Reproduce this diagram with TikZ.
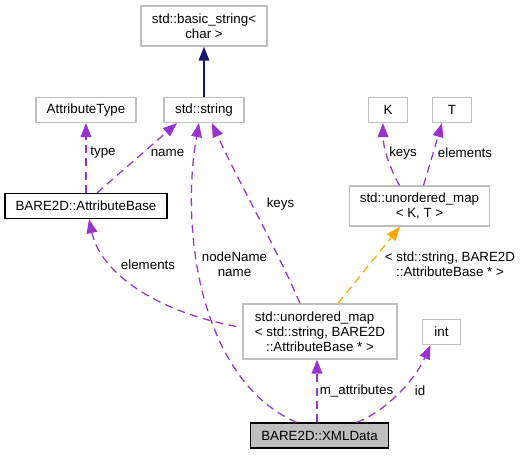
\documentclass[tikz,border=0pt]{standalone}
\usepackage{fontspec}
\setmainfont{Liberation Sans}
\usetikzlibrary{arrows.meta,calc,positioning}
\definecolor{edgepurple}{HTML}{9A32CD}
\definecolor{edgeorange}{HTML}{FFA500}
\definecolor{edgenavy}{HTML}{191970}
\definecolor{boxgrey}{HTML}{BFBFBF}

\begin{document}
\begin{tikzpicture}[x=0.75pt,y=-0.75pt,
    cls/.style={draw=boxgrey, line width=0.9pt, fill=white, font=\fontsize{10}{11.25}\selectfont, align=center, inner xsep=8pt, inner ysep=2pt, minimum height=18.75pt},
    cur/.style={cls, draw=black},
    lbl/.style={font=\fontsize{10}{11.25}\selectfont, align=center, inner sep=0pt},
    usage/.style={draw=edgepurple, line width=0.95pt, dash pattern=on 6pt off 4pt, -{Triangle[length=10.5pt,width=8pt,fill=edgepurple]}},
    tmpl/.style={usage, draw=edgeorange, -{Triangle[length=10.5pt,width=8pt,fill=edgeorange]}},
    inherit/.style={draw=edgenavy, line width=0.95pt, -{Triangle[length=10.5pt,width=8pt,fill=edgenavy]}}]
    \useasboundingbox (0,0) rectangle (527,455);
    % classes
    \node[cls, minimum width=94.5pt, minimum height=30pt] (bstr) at (204,26) {std::basic\_string<\\char >};
    \node[cls, minimum width=60pt] (str) at (204,110) {std::string};
    \node[cls, minimum width=74pt] (atype) at (86,110) {AttributeType};
    \node[cls, minimum width=29pt] (kparam) at (388,110) {K};
    \node[cls, minimum width=29pt] (tparam) at (452,110) {T};
    \node[cur, minimum width=121.5pt] (abase) at (86,206) {BARE2D::AttributeBase};
    \node[cls, minimum width=102.75pt, minimum height=30pt] (mapKT) at (419.5,206) {std::unordered\_map\\< K, T >};
    \node[cls, minimum width=115.5pt, minimum height=41.25pt] (mapS) at (320,331.5) {\rlap{std::unordered\_map}\phantom{< std::string, BARE2D}\\< std::string, BARE2D\\::AttributeBase * >};
    \node[cls, minimum width=29pt] (int) at (441.5,332) {int};
    \node[cur, fill=boxgrey, minimum width=104pt] (xml) at (319.5,435.5) {BARE2D::XMLData};
    % edges
    \draw[inherit] (str.north) -- (bstr.south);
    \draw[usage] (abase.north) -- (atype.south);
    \draw[usage] ($(abase.north)+(11,0)$) -- ($(str.south)+(-27,0)$);
    \draw[usage] ($(xml.north)+(-23,0)$) .. controls (200,380) and (180,230) .. ($(str.south)+(-5,0)$);
    \draw[usage] ($(mapS.north)+(-20,0)$) .. controls (275,245) and (235,175) .. ($(str.south)+(8,0)$);
    \draw[usage] ($(mapS.west)+(-6,-5)$) .. controls (150,310) and (100,270) .. ($(abase.south)+(3,0)$);
    \draw[usage] ($(mapKT.north)+(-20,0)$) .. controls (388,165) and (383,145) .. ($(kparam.south)+(-5,0)$);
    \draw[usage] ($(mapKT.north)+(4,0)$) -- ($(tparam.south)+(-10,0)$);
    \draw[tmpl] ($(mapS.north)+(18,0)$) -- ($(mapKT.south)+(-19.5,0)$);
    \draw[usage] ($(xml.north)+(-2.5,0)$) -- ($(mapS.south)+(-3,0)$);
    \draw[usage] ($(xml.north)+(37,0)$) .. controls (385,412) and (415,380) .. ($(int.south)+(-11,0)$);
    % labels
    \node[lbl] (lType) at (103,153) {type};
    \node[lbl] (lName) at (167.5,153) {name};
    \node[lbl] (lKeysK) at (403,153) {keys};
    \node[lbl] (lElemT) at (465,153) {elements};
    \node[lbl] (lKeys) at (280.5,204) {keys};
    \node[lbl] (lElem) at (148,264.5) {elements};
    \node[lbl] (lNode) at (234.5,264.5) {nodeName\\name};
    \node[lbl] (lTmpl) at (450,264.5) {< std::string, BARE2D\\::AttributeBase * >};
    \node[lbl] (lAttr) at (356.5,390.5) {m\_attributes};
    \node[lbl] (lId) at (420,390.5) {id};
\end{tikzpicture}
\end{document}
